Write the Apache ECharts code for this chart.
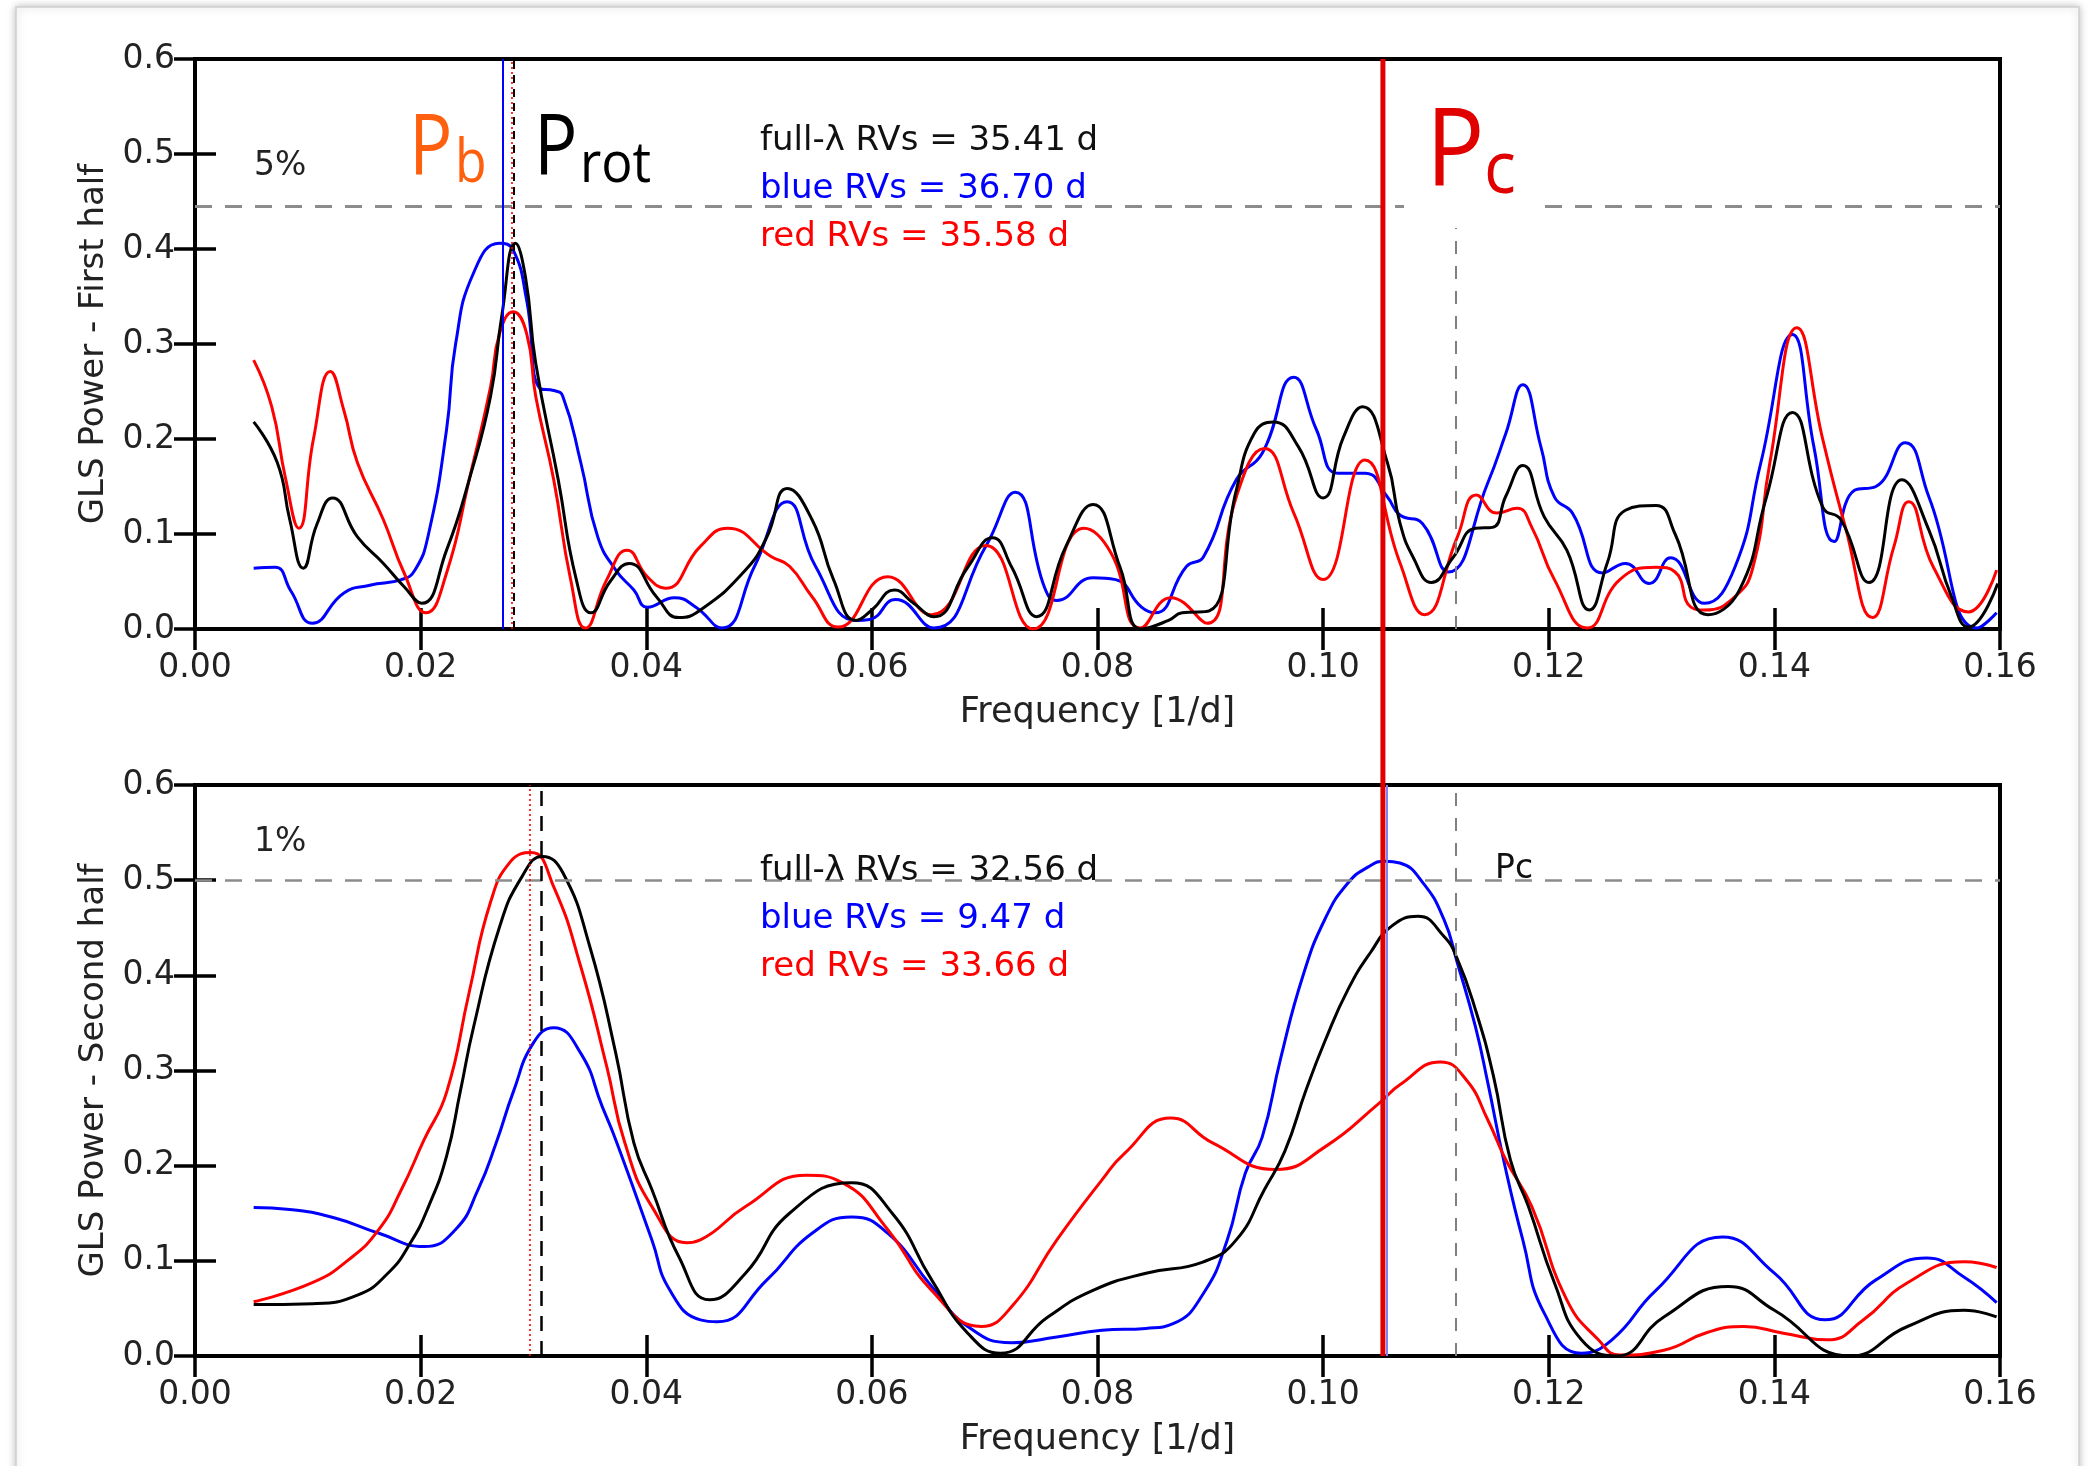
<!DOCTYPE html>
<html><head><meta charset="utf-8">
<script src="https://cdn.jsdelivr.net/npm/echarts@6/dist/echarts.min.js"></script>
<style>html,body{margin:0;padding:0;background:#fff;}#c{width:2091px;height:1466px;}</style>
</head><body><div id="c"></div>
<script>
// ---------- DATA ----------
const X_TICKS = [0.00,0.02,0.04,0.06,0.08,0.10,0.12,0.14,0.16];
const Y_TICKS = [0.0,0.1,0.2,0.3,0.4,0.5,0.6];

// First half periodograms [frequency, power]
const topFull = [[0.0052,0.218],[0.0073,0.175],[0.0084,0.115],[0.0096,0.064],[0.0108,0.11],[0.0122,0.138],[0.0144,0.097],[0.0167,0.069],[0.0185,0.045],[0.0201,0.027],[0.0223,0.083],[0.0243,0.157],[0.0262,0.245],[0.0272,0.33],[0.0284,0.406],[0.0293,0.37],[0.0302,0.28],[0.0322,0.157],[0.0338,0.052],[0.0351,0.017],[0.0368,0.05],[0.0385,0.069],[0.0409,0.034],[0.0429,0.012],[0.0448,0.02],[0.0488,0.062],[0.0507,0.097],[0.0525,0.148],[0.0547,0.115],[0.0566,0.052],[0.0586,0.009],[0.060,0.02],[0.062,0.041],[0.0637,0.027],[0.0655,0.013],[0.0685,0.065],[0.0707,0.096],[0.0724,0.065],[0.0746,0.013],[0.0772,0.087],[0.0796,0.131],[0.082,0.065],[0.0839,0.0],[0.0863,0.009],[0.0875,0.017],[0.0899,0.019],[0.0923,0.146],[0.0939,0.206],[0.0956,0.218],[0.0978,0.192],[0.100,0.138],[0.1018,0.202],[0.1035,0.234],[0.1057,0.175],[0.1068,0.112],[0.108,0.075],[0.1096,0.049],[0.1115,0.075],[0.1135,0.106],[0.115,0.107],[0.1162,0.14],[0.1177,0.172],[0.1196,0.118],[0.1216,0.083],[0.1236,0.02],[0.1252,0.07],[0.1268,0.125],[0.1295,0.13],[0.1312,0.1],[0.1341,0.015],[0.1369,0.041],[0.1393,0.139],[0.1416,0.228],[0.1443,0.128],[0.1459,0.115],[0.1484,0.049],[0.1513,0.157],[0.1537,0.104],[0.1557,0.034],[0.1572,0.002],[0.1598,0.048]];
const topBlue = [[0.0052,0.064],[0.0071,0.065],[0.0085,0.04],[0.0104,0.006],[0.0132,0.038],[0.0155,0.046],[0.0183,0.052],[0.0195,0.062],[0.0207,0.1],[0.0223,0.21],[0.0231,0.3],[0.0247,0.375],[0.027,0.406],[0.0282,0.399],[0.0294,0.346],[0.0306,0.253],[0.0318,0.251],[0.0326,0.245],[0.0342,0.175],[0.0357,0.097],[0.0373,0.062],[0.0389,0.041],[0.0401,0.023],[0.0425,0.033],[0.0444,0.023],[0.0467,0.001],[0.0496,0.066],[0.0525,0.134],[0.055,0.066],[0.0586,0.009],[0.0598,0.01],[0.0621,0.031],[0.0655,0.001],[0.0701,0.087],[0.0727,0.144],[0.0753,0.044],[0.0764,0.03],[0.0796,0.054],[0.0816,0.052],[0.0839,0.023],[0.0851,0.017],[0.0879,0.066],[0.0894,0.076],[0.0923,0.157],[0.0946,0.185],[0.0974,0.265],[0.0994,0.21],[0.1013,0.164],[0.1037,0.164],[0.1057,0.139],[0.1068,0.12],[0.1088,0.111],[0.1111,0.06],[0.1146,0.154],[0.1162,0.206],[0.1177,0.257],[0.1193,0.192],[0.1205,0.139],[0.1221,0.122],[0.1248,0.059],[0.1268,0.069],[0.1289,0.048],[0.1308,0.075],[0.1338,0.027],[0.1365,0.065],[0.1388,0.175],[0.1416,0.31],[0.1435,0.192],[0.1453,0.092],[0.1471,0.146],[0.149,0.15],[0.1516,0.196],[0.1537,0.139],[0.158,0.001],[0.1597,0.017]];
const topRed = [[0.0052,0.283],[0.0068,0.234],[0.008,0.16],[0.0092,0.106],[0.0105,0.2],[0.012,0.271],[0.0132,0.23],[0.0144,0.175],[0.0167,0.115],[0.0185,0.06],[0.0205,0.017],[0.0223,0.059],[0.0243,0.157],[0.0262,0.255],[0.027,0.311],[0.0282,0.334],[0.0294,0.311],[0.0302,0.245],[0.0318,0.157],[0.0333,0.052],[0.0346,0.001],[0.0365,0.052],[0.0383,0.083],[0.0401,0.055],[0.0417,0.043],[0.0448,0.087],[0.0472,0.106],[0.0511,0.076],[0.0527,0.066],[0.0547,0.034],[0.057,0.002],[0.0614,0.055],[0.0653,0.015],[0.0701,0.088],[0.0743,0.0],[0.0788,0.106],[0.0812,0.08],[0.0838,0.001],[0.0865,0.033],[0.0897,0.006],[0.0923,0.139],[0.0948,0.19],[0.0974,0.122],[0.100,0.052],[0.1037,0.178],[0.1068,0.07],[0.109,0.015],[0.1119,0.097],[0.1136,0.141],[0.1154,0.122],[0.1172,0.127],[0.1185,0.107],[0.1205,0.052],[0.1234,0.001],[0.1263,0.052],[0.1295,0.065],[0.1312,0.06],[0.1326,0.023],[0.1338,0.02],[0.1365,0.034],[0.1381,0.065],[0.1396,0.175],[0.142,0.317],[0.1443,0.199],[0.1463,0.107],[0.1487,0.012],[0.1506,0.087],[0.1519,0.134],[0.1541,0.065],[0.1572,0.018],[0.1597,0.062]];

// Second half periodograms
const botFull = [[0.0052,0.054],[0.0104,0.055],[0.0144,0.064],[0.0171,0.087],[0.0191,0.119],[0.0207,0.157],[0.0223,0.21],[0.0235,0.277],[0.0247,0.346],[0.027,0.451],[0.029,0.504],[0.0308,0.525],[0.0326,0.508],[0.035,0.43],[0.0373,0.318],[0.0389,0.224],[0.0405,0.175],[0.0429,0.104],[0.0456,0.059],[0.0488,0.087],[0.0527,0.15],[0.0582,0.182],[0.0618,0.15],[0.0653,0.08],[0.0685,0.024],[0.0714,0.003],[0.0756,0.041],[0.0796,0.069],[0.0843,0.087],[0.0894,0.099],[0.0923,0.122],[0.0948,0.175],[0.0966,0.215],[0.0985,0.28],[0.1002,0.332],[0.1022,0.385],[0.1042,0.424],[0.1061,0.452],[0.1084,0.462],[0.1107,0.441],[0.1119,0.417],[0.1135,0.364],[0.1151,0.294],[0.1166,0.206],[0.1182,0.157],[0.1205,0.077],[0.1229,0.017],[0.126,0.0],[0.1302,0.041],[0.1359,0.073],[0.14,0.048],[0.1467,0.0],[0.1518,0.031],[0.1568,0.048],[0.1597,0.041]];
const botBlue = [[0.0052,0.156],[0.0084,0.154],[0.0124,0.145],[0.0163,0.129],[0.0203,0.115],[0.0231,0.133],[0.0251,0.175],[0.0267,0.224],[0.0282,0.277],[0.030,0.329],[0.0318,0.345],[0.0342,0.318],[0.0361,0.262],[0.0373,0.227],[0.0405,0.122],[0.0421,0.069],[0.0448,0.038],[0.0463,0.036],[0.0507,0.08],[0.0547,0.129],[0.0582,0.146],[0.0614,0.129],[0.0653,0.073],[0.0685,0.031],[0.0724,0.014],[0.0764,0.02],[0.0804,0.027],[0.0843,0.029],[0.0867,0.034],[0.0894,0.066],[0.0915,0.122],[0.0931,0.192],[0.0946,0.23],[0.0962,0.311],[0.0982,0.399],[0.1002,0.46],[0.1022,0.497],[0.1040,0.514],[0.1055,0.52],[0.1068,0.518],[0.1088,0.498],[0.1107,0.459],[0.1119,0.413],[0.1135,0.346],[0.1146,0.287],[0.116,0.206],[0.1177,0.122],[0.1196,0.045],[0.1229,0.003],[0.1256,0.017],[0.1295,0.069],[0.1354,0.125],[0.14,0.087],[0.1445,0.038],[0.149,0.08],[0.1535,0.103],[0.1568,0.083],[0.1597,0.056]];
const botRed = [[0.0052,0.057],[0.0104,0.077],[0.0136,0.101],[0.0163,0.133],[0.0183,0.175],[0.0203,0.227],[0.0223,0.277],[0.0243,0.382],[0.0262,0.477],[0.028,0.52],[0.0298,0.529],[0.0318,0.493],[0.0342,0.409],[0.0365,0.304],[0.0381,0.224],[0.0405,0.157],[0.0436,0.119],[0.0448,0.122],[0.0488,0.157],[0.0542,0.19],[0.0574,0.182],[0.0614,0.133],[0.0653,0.069],[0.0697,0.031],[0.0724,0.052],[0.0764,0.122],[0.0804,0.185],[0.0824,0.213],[0.0865,0.25],[0.0902,0.224],[0.0958,0.196],[0.1002,0.22],[0.105,0.266],[0.1068,0.285],[0.1104,0.309],[0.1127,0.29],[0.1146,0.248],[0.1162,0.206],[0.1185,0.157],[0.1216,0.059],[0.1244,0.017],[0.1263,0.001],[0.1302,0.006],[0.1341,0.025],[0.1373,0.031],[0.1408,0.024],[0.1447,0.017],[0.1479,0.038],[0.1518,0.077],[0.1568,0.099],[0.1597,0.093]];

// Periods of highest peaks [full-λ, blue, red] (days)
const TOP_PERIODS = [35.41, 36.70, 35.58];
const BOT_PERIODS = [32.56, 9.47, 33.66];
const SERIES_NAMES = ['full-λ RVs', 'blue RVs', 'red RVs'];
const FAP_TOP = 0.445, FAP_TOP_LABEL = '5%';
const FAP_BOT = 0.50, FAP_BOT_LABEL = '1%';
const PC_FREQ = 0.1053;      // thick red P_c marker
const PC_GREY_FREQ = 0.1118; // grey dashed marker

// ---------- CHART ----------
const FONT = 'DejaVu Sans';
const chart = echarts.init(document.getElementById('c'), null, {renderer:'canvas'});
const grids = [
  {left:195, top:59, width:1805, height:570, show:true, borderColor:'#000', borderWidth:4, backgroundColor:'transparent'},
  {left:195, top:785, width:1805, height:571, show:true, borderColor:'#000', borderWidth:4, backgroundColor:'transparent'}
];
const tick = {inside:true, length:21, lineStyle:{color:'#000', width:3.5}};
function xAx(gi, pos, labels){
  return {type:'value', gridIndex:gi, position:pos, min:0, max:0.16, interval:0.02,
    axisLine:{show:false}, splitLine:{show:false}, axisTick:tick,
    axisLabel:{show:labels, margin:23, fontFamily:FONT, fontSize:33, color:'#222', formatter:v=>v.toFixed(2)},
    name: labels ? 'Frequency [1/d]' : '', nameLocation:'middle', nameGap:66,
    nameTextStyle:{fontFamily:FONT, fontSize:35, color:'#222'}};
}
function yAx(gi, pos, labels, name){
  return {type:'value', gridIndex:gi, position:pos, min:0, max:0.6, interval:0.1,
    axisLine:{show:false}, splitLine:{show:false}, axisTick:tick,
    axisLabel:{show:labels, margin:20, fontFamily:FONT, fontSize:33, color:'#222', formatter:v=>v.toFixed(1)},
    name: name || '', nameLocation:'middle', nameGap:83, nameRotate:90,
    nameTextStyle:{fontFamily:FONT, fontSize:34, color:'#222'}};
}
const xAxis = [xAx(0,'bottom',true), xAx(0,'top',false), xAx(1,'bottom',true), xAx(1,'top',false)];
const yAxis = [yAx(0,'left',true,'GLS Power - First half'), yAx(0,'right',false), yAx(1,'left',true,'GLS Power - Second half'), yAx(1,'right',false)];

function curve(data, color, xi, yi){
  return {type:'line', data:data, xAxisIndex:xi, yAxisIndex:yi, showSymbol:false, symbol:'none',
    smooth:0.5, lineStyle:{color:color, width:3}, z:3, silent:true};
}
function vline(x, color, width, type){
  return {xAxis:x, lineStyle:{color:color, width:width, type:type}};
}
function markSeries(xi, yi, lines){
  return {type:'line', data:[], xAxisIndex:xi, yAxisIndex:yi, silent:true,
    markLine:{symbol:'none', silent:true, animation:false, precision:10, label:{show:false}, data:lines}, z:4};
}
const series = [
  markSeries(0,0,[
    {yAxis:FAP_TOP, lineStyle:{color:'#8c8c8c', width:3, type:[17,13]}},
    vline(PC_GREY_FREQ, '#808080', 2, [13,12]),
    vline(1/TOP_PERIODS[1], '#0000ff', 2, 'solid'),
    vline(1/TOP_PERIODS[0], '#000', 2, [8,6]),
    vline(1/TOP_PERIODS[2], '#ff0000', 1.6, [2,3])
  ]),
  markSeries(2,2,[
    {yAxis:FAP_BOT, lineStyle:{color:'#8c8c8c', width:2.5, type:[17,13]}},
    vline(PC_GREY_FREQ, '#808080', 2, [13,12]),
    vline(1/BOT_PERIODS[1], '#8080ff', 2, 'solid'),
    vline(1/BOT_PERIODS[0], '#000', 2.5, [15,10]),
    vline(1/BOT_PERIODS[2], '#ff0000', 1.6, [2,3])
  ]),
  curve(topBlue,'#0000ff',0,0), curve(topRed,'#ff0000',0,0), curve(topFull,'#000000',0,0),
  curve(botBlue,'#0000ff',2,2), curve(botRed,'#ff0000',2,2), curve(botFull,'#000000',2,2)
];

chart.setOption({animation:false, backgroundColor:'transparent', grid:grids, xAxis:xAxis, yAxis:yAxis, series:series});

// ---------- ANNOTATIONS ----------
function txt(x, y, s, size, color, family, extra){
  return Object.assign({type:'text', x:x, y:y, z:100, silent:true,
    style:{text:s, fontFamily:family||FONT, fontSize:size, fill:color, textAlign:'left', textVerticalAlign:'middle'}}, extra||{});
}
const colors = ['#111', '#0000ff', '#ff0000'];
const g = [];
// page frame
g.push({type:'rect', shape:{x:16, y:7, width:2063, height:1520}, z:-100, silent:true,
  style:{fill:'#fff', stroke:'#cfcfcf', lineWidth:1.5, shadowBlur:8, shadowColor:'rgba(0,0,0,0.25)'}});
// period texts
TOP_PERIODS.forEach((p,i)=> g.push(txt(760, 141 + 48*i, SERIES_NAMES[i] + ' = ' + p.toFixed(2) + ' d', 34, colors[i])));
BOT_PERIODS.forEach((p,i)=> g.push(txt(760, 871 + 48*i, SERIES_NAMES[i] + ' = ' + p.toFixed(2) + ' d', 34, colors[i])));
g.push(txt(254, 166, FAP_TOP_LABEL, 33, '#222'));
g.push(txt(254, 842, FAP_BOT_LABEL, 33, '#222'));
g.push(txt(1495, 869, 'Pc', 33, '#111'));
// white box behind big P_c
g.push({type:'rect', shape:{x:1404, y:62, width:136, height:166}, z:90, silent:true, style:{fill:'#fff'}});
// big labels
const OS = '"Open Sans", "Noto Sans", sans-serif';
g.push(txt(409, 151, 'P', 84, '#ff6010', OS, {scaleX:0.86}));
g.push(txt(455, 165, 'b', 60, '#ff6010', OS, {scaleX:0.86}));
g.push(txt(534, 151, 'P', 84, '#000', OS, {scaleX:0.86}));
g.push(txt(580, 166, 'rot', 56, '#000', OS, {scaleX:0.93}));
g.push(txt(1426, 154, 'P', 108, '#e00000', OS, {scaleX:0.9}));
g.push(txt(1484, 172, 'c', 74, '#e00000', OS, {scaleX:0.9}));
// thick red P_c line across both panels, placed through the axes' scales
const px = chart.convertToPixel({xAxisIndex:0}, PC_FREQ);
const yTop = chart.convertToPixel({yAxisIndex:0}, 0.6);
const yBot = chart.convertToPixel({yAxisIndex:2}, 0);
g.push({type:'line', shape:{x1:px, y1:yTop, x2:px, y2:yBot}, z:95, silent:true, style:{stroke:'#e00000', lineWidth:5}});
chart.setOption({graphic:g});
</script></body></html>
